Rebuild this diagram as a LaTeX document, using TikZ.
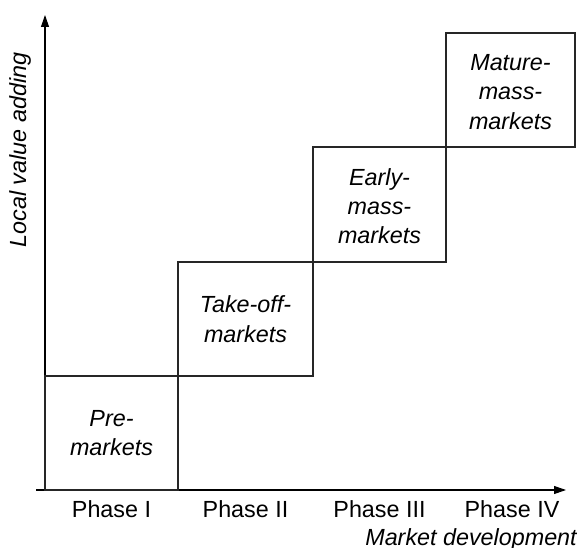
\documentclass[tikz,border=0pt]{standalone}
\usepackage{fontspec}
\setmainfont{Liberation Sans}
\usetikzlibrary{arrows.meta}
\begin{document}
\begin{tikzpicture}[x=0.75pt,y=-0.75pt,
  axis/.style={line width=0.8pt,-{Triangle[length=9pt,width=6pt]}},
  phasebox/.style={draw=black!85,line width=0.8pt,align=center,
    font=\fontsize{17.5}{22}\selectfont\itshape},
  lbl/.style={font=\fontsize{17.5}{21}\selectfont},
  axlbl/.style={font=\fontsize{17.5}{21}\selectfont\itshape}]
\useasboundingbox (0,0) rectangle (577,548);
% axes
\coordinate (o) at (45,490);
\coordinate (xs) at (36,490);
\coordinate (xe) at (566,490);
\coordinate (ye) at (45,15);
\draw[axis] (xs) -- (xe);
\draw[axis] (o) -- (ye);
% staircase of phases
\draw[phasebox] (45,376) rectangle (178,490);
\draw[phasebox] (178,262) rectangle (313,376);
\draw[phasebox] (313,147) rectangle (446,262);
\draw[phasebox] (446,33) rectangle (575,147);
\node[phasebox,draw=none] (p1) at (111.5,433) {Pre-\\markets};
\node[phasebox,draw=none] (p2) at (245.5,319) {Take-off-\\markets};
\node[phasebox,draw=none] (p3) at (379.5,206) {Early-\\mass-\\markets};
\node[phasebox,draw=none] (p4) at (510.5,92) {Mature-\\mass-\\markets};
% axis labels
\node[lbl,anchor=base] (l1) at (111.5,517) {Phase I};
\node[lbl,anchor=base] (l2) at (245.5,517) {Phase II};
\node[lbl,anchor=base] (l3) at (379.5,517) {Phase III};
\node[lbl,anchor=base] (l4) at (512,517) {Phase IV};
\node[axlbl,anchor=base east,inner xsep=0pt] (mx) at (577,545) {Market development};
\node[axlbl,rotate=90] (my) at (20,150) {Local value adding};
\end{tikzpicture}
\end{document}
